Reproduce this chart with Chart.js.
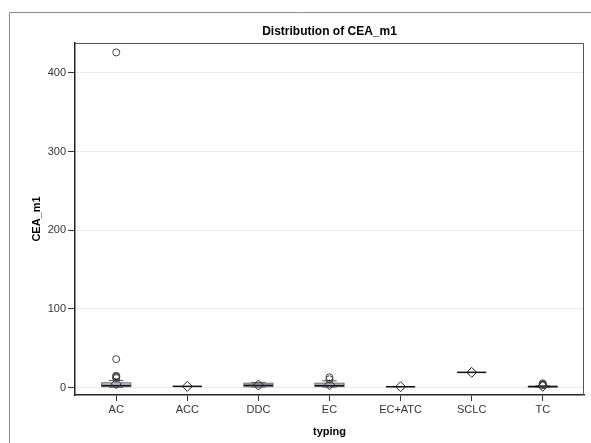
<!DOCTYPE html>
<html>
<head>
<meta charset="utf-8">
<script src="https://cdn.jsdelivr.net/npm/chart.js@4.4.1/dist/chart.umd.min.js"></script>
<style>
html,body{margin:0;padding:0;background:#fff;}
#wrap{width:591px;height:443px;position:relative;}
</style>
</head>
<body>
<div id="wrap"><canvas id="c" width="591" height="443"></canvas></div>
<script>
const categories = ['AC','ACC','DDC','EC','EC+ATC','SCLC','TC'];
const whiskerLow  = [0.3, 1.5, 0.5, 0.5, 1.0, 19.3, 0.5];
const q1          = [1.0, 1.5, 1.0, 1.2, 1.0, 19.3, 0.8];
const median      = [2.5, 1.5, 2.8, 2.5, 1.0, 19.3, 1.2];
const q3          = [6.0, 1.5, 5.5, 5.5, 1.0, 19.3, 1.6];
const whiskerHigh = [9.0, 1.5, 6.5, 8.5, 1.0, 19.3, 2.3];
const means       = [4.8, 1.5, 3.2, 3.5, 1.0, 19.3, 1.6];
const outliersAC  = [12, 13, 14, 15, 36, 426];
const outliersEC  = [10.5, 13];
const outliersTC  = [2.8, 3.5, 4.5, 5.3];
const yTicks = [0, 100, 200, 300, 400];

const outlierPoints = [];
outliersAC.forEach(v => outlierPoints.push({x: 0, y: v}));
outliersEC.forEach(v => outlierPoints.push({x: 3, y: v}));
outliersTC.forEach(v => outlierPoints.push({x: 6, y: v}));
const meanPoints = means.map((v, i) => ({x: i, y: v}));

const FONT = "'Liberation Sans', Arial, sans-serif";
const BOX_W = 0.41;

const boxPlugin = {
  id: 'boxes',
  beforeDraw(chart) {
    const ctx = chart.ctx;
    ctx.save();
    ctx.strokeStyle = '#8a8a8a';
    ctx.lineWidth = 1;
    ctx.beginPath();
    ctx.moveTo(9.5, 443);
    ctx.lineTo(9.5, 12.5);
    ctx.lineTo(591, 12.5);
    ctx.stroke();
    ctx.restore();
  },
  beforeDatasetsDraw(chart) {
    const ctx = chart.ctx, xs = chart.scales.x, ys = chart.scales.y;
    ctx.save();
    categories.forEach((c, i) => {
      const xc = xs.getPixelForValue(i);
      const xl = xs.getPixelForValue(i - BOX_W / 2);
      const xr = xs.getPixelForValue(i + BOX_W / 2);
      const cl = xs.getPixelForValue(i - BOX_W / 4);
      const cr = xs.getPixelForValue(i + BOX_W / 4);
      const yq1 = ys.getPixelForValue(q1[i]);
      const yq3 = ys.getPixelForValue(q3[i]);
      const ylo = ys.getPixelForValue(whiskerLow[i]);
      const yhi = ys.getPixelForValue(whiskerHigh[i]);
      const ymed = ys.getPixelForValue(median[i]);
      ctx.strokeStyle = '#555';
      ctx.lineWidth = 1;
      if (whiskerHigh[i] > q3[i]) {
        ctx.beginPath();
        ctx.moveTo(xc, yq3); ctx.lineTo(xc, yhi);
        ctx.moveTo(cl, yhi); ctx.lineTo(cr, yhi);
        ctx.stroke();
      }
      if (whiskerLow[i] < q1[i]) {
        ctx.beginPath();
        ctx.moveTo(xc, yq1); ctx.lineTo(xc, ylo);
        ctx.moveTo(cl, ylo); ctx.lineTo(cr, ylo);
        ctx.stroke();
      }
      if (q3[i] > q1[i]) {
        ctx.fillStyle = '#c4d1e3';
        ctx.fillRect(xl, yq3, xr - xl, yq1 - yq3);
        ctx.strokeStyle = '#6a6a6a';
        ctx.strokeRect(xl, yq3, xr - xl, yq1 - yq3);
      }
      ctx.strokeStyle = '#111';
      ctx.lineWidth = 1.5;
      ctx.beginPath();
      ctx.moveTo(xl, ymed); ctx.lineTo(xr, ymed);
      ctx.stroke();
    });
    ctx.restore();
  },
  afterDraw(chart) {
    const ctx = chart.ctx, a = chart.chartArea;
    ctx.save();
    ctx.strokeStyle = '#555';
    ctx.lineWidth = 1;
    ctx.beginPath();
    ctx.moveTo(a.left, a.top + 0.5); ctx.lineTo(a.right - 0.5, a.top + 0.5); ctx.lineTo(a.right - 0.5, a.bottom);
    ctx.stroke();
    ctx.restore();
  }
};

new Chart(document.getElementById('c'), {
  type: 'scatter',
  data: {
    datasets: [
      {
        label: 'Mean',
        data: meanPoints,
        pointStyle: 'rectRot',
        pointRadius: 5,
        pointBackgroundColor: 'rgba(255,255,255,0)',
        pointBorderColor: '#222',
        pointBorderWidth: 1,
        showLine: false
      },
      {
        label: 'Outliers',
        data: outlierPoints,
        pointStyle: 'circle',
        pointRadius: 3.5,
        pointBackgroundColor: 'rgba(255,255,255,0)',
        pointBorderColor: '#444',
        pointBorderWidth: 1,
        showLine: false
      }
    ]
  },
  options: {
    responsive: false,
    animation: false,
    events: [],
    layout: { padding: { top: 12, right: 7, left: 0, bottom: 0 } },
    plugins: {
      legend: { display: false },
      tooltip: { enabled: false },
      title: {
        display: true,
        text: 'Distribution of CEA_m1',
        fullSize: false,
        color: '#000',
        font: { family: FONT, size: 12, weight: 'bold' },
        padding: { top: 12.3, bottom: 4.3 }
      }
    },
    scales: {
      x: {
        type: 'linear',
        min: -0.58,
        max: 6.58,
        afterBuildTicks(scale) { scale.ticks = categories.map((c, i) => ({ value: i })); },
        afterFit(scale) { scale.height = 48; },
        ticks: {
          autoSkip: false,
          maxRotation: 0,
          padding: 2,
          color: '#333',
          font: { family: FONT, size: 11 },
          callback: (v) => categories[v]
        },
        grid: { drawOnChartArea: false, tickLength: 6, tickColor: '#333' },
        border: { color: '#222', width: 1.5 },
        title: {
          display: true,
          text: 'typing',
          color: '#000',
          font: { family: FONT, size: 11, weight: 'bold' },
          padding: { top: 0, bottom: 4.4 }
        }
      },
      y: {
        type: 'linear',
        min: -9.5,
        max: 438,
        afterBuildTicks(scale) { scale.ticks = yTicks.map(v => ({ value: v })); },
        afterFit(scale) { scale.width = 75; },
        ticks: {
          padding: 2,
          color: '#333',
          font: { family: FONT, size: 11 }
        },
        grid: { color: '#e8e8e8', tickLength: 7, tickColor: '#333' },
        border: { color: '#222', width: 1.5 },
        title: {
          display: true,
          text: 'CEA_m1',
          color: '#000',
          font: { family: FONT, size: 11, weight: 'bold' },
          padding: { top: 30.4, bottom: 0 }
        }
      }
    }
  },
  plugins: [boxPlugin]
});
</script>
</body>
</html>
